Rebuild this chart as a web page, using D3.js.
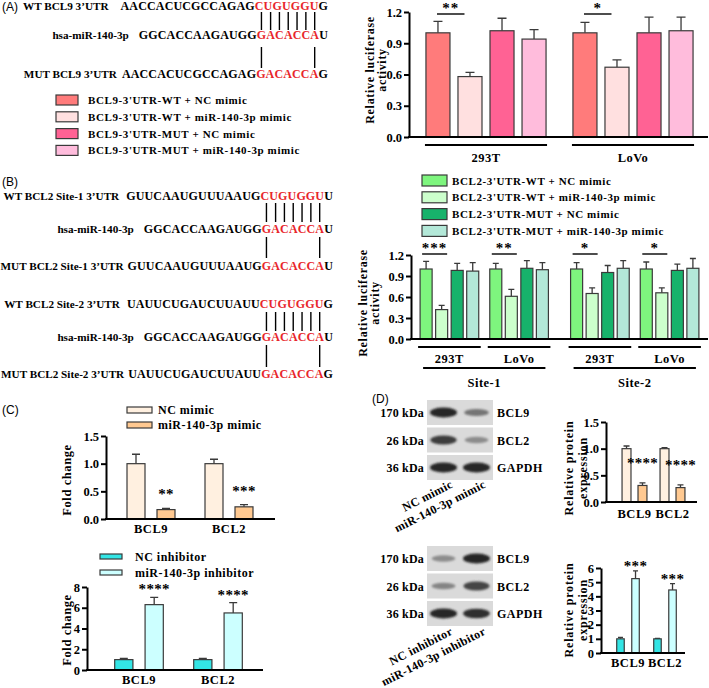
<!DOCTYPE html>
<html>
<head>
<meta charset="utf-8">
<script src="https://cdn.jsdelivr.net/npm/d3@7"></script>
<style>
  body { margin: 0; background: #fff; }
  svg { display: block; font-family: "Liberation Serif", "Times New Roman", serif; font-weight: bold; }
</style>
</head>
<body>
<svg id="fig" width="709" height="688"></svg>
<script>
// ---------------- data ----------------
// (A) BCL9 luciferase
const cellsA = ["293T", "LoVo"];
const seriesA = ["BCL9-3'UTR-WT + NC mimic", "BCL9-3'UTR-WT + miR-140-3p mimic",
  "BCL9-3'UTR-MUT + NC mimic", "BCL9-3'UTR-MUT + miR-140-3p mimic"];
const valuesA = [[1.00, 0.58, 1.02, 0.94], [1.00, 0.67, 1.00, 1.02]];
const errorsA = [[0.11, 0.04, 0.12, 0.09], [0.10, 0.07, 0.15, 0.13]];
const sigA = ["**", "*"];
const colorsA = ["#ff7b7b", "#ffe0e0", "#ff6294", "#ffbcdc"];

// (B) BCL2 luciferase
const sitesB = ["Site-1", "Site-2"];
const cellsB = ["293T", "LoVo"];
const seriesB = ["BCL2-3'UTR-WT + NC mimic", "BCL2-3'UTR-WT + miR-140-3p mimic",
  "BCL2-3'UTR-MUT + NC mimic", "BCL2-3'UTR-MUT + miR-140-3p mimic"];
const valuesB = [[[1.00, 0.42, 0.98, 0.97], [1.00, 0.61, 1.01, 0.99]],
                 [[1.00, 0.65, 0.95, 1.01], [1.00, 0.66, 0.98, 1.01]]];
const errorsB = [[[0.11, 0.06, 0.10, 0.12], [0.08, 0.10, 0.11, 0.10]],
                 [[0.09, 0.08, 0.10, 0.11], [0.10, 0.07, 0.09, 0.14]]];
const sigB = [["***", "**"], ["*", "*"]];
const colorsB = ["#7ef57e", "#ccffcc", "#17b26b", "#b3e8d8"];

// (C) qPCR
const genes = ["BCL9", "BCL2"];
const seriesMimic = ["NC mimic", "miR-140-3p mimic"];
const seriesInhib = ["NC inhibitor", "miR-140-3p inhibitor"];
const valuesC1 = [[1.00, 0.17], [1.00, 0.22]];
const errorsC1 = [[0.17, 0.02], [0.08, 0.04]];
const sigC1 = ["**", "***"];
const valuesC2 = [[1.0, 6.3], [1.0, 5.5]];
const errorsC2 = [[0.12, 0.7], [0.12, 1.0]];
const sigC2 = ["****", "****"];
const colorsMimic = ["#fff0e0", "#ffc991"];
const colorsInhib = ["#33e5e5", "#ccffff"];

// (D) western blot
const valuesD1 = [[1.00, 0.31], [1.00, 0.27]];
const errorsD1 = [[0.05, 0.05], [0.02, 0.05]];
const sigD1 = ["****", "****"];
const valuesD2 = [[1.0, 5.25], [1.0, 4.45]];
const errorsD2 = [[0.10, 0.55], [0.03, 0.45]];
const sigD2 = ["***", "***"];
const blotProteins = ["BCL9", "BCL2", "GAPDH"];
const blotKda = ["170 kDa", "26 kDa", "36 kDa"];
const bandsD1 = [[1.0, 0.5], [0.85, 0.35], [1.0, 1.0]];
const bandsD2 = [[0.35, 1.0], [0.4, 0.8], [1.0, 0.95]];

// sequences
const seqA = [
  { label: "WT BCL9 3’UTR", pre: "AACCACUCGCCAGAG", site: "CUGUGGU", post: "G" },
  { label: "hsa-miR-140-3p", pre: "GGCACCAAGAUGG", site: "GACACCA", post: "U" },
  { label: "MUT BCL9 3’UTR", pre: "AACCACUCGCCAGAG", site: "GACACCA", post: "G" }];
const seqB1 = [
  { label: "WT BCL2 Site-1 3’UTR", pre: "GUUCAAUGUUUAAUG", site: "CUGUGGU", post: "U" },
  { label: "hsa-miR-140-3p", pre: "GGCACCAAGAUGG", site: "GACACCA", post: "U" },
  { label: "MUT BCL2 Site-1 3’UTR", pre: "GUUCAAUGUUUAAUG", site: "GACACCA", post: "U" }];
const seqB2 = [
  { label: "WT BCL2 Site-2 3’UTR", pre: "UAUUCUGAUCUUAUU", site: "CUGUGGU", post: "G" },
  { label: "hsa-miR-140-3p", pre: "GGCACCAAGAUGG", site: "GACACCA", post: "U" },
  { label: "MUT BCL2 Site-2 3’UTR", pre: "UAUUCUGAUCUUAUU", site: "GACACCA", post: "G" }];

// ---------------- helpers ----------------
const svg = d3.select("#fig");
const RED = "#e8262b";
const EDGE = "#3a3a3a";

function panelLetter(t, x, y) {
  svg.append("text").attr("x", x).attr("y", y)
    .attr("font-family", "'Liberation Sans', Arial, sans-serif")
    .attr("font-weight", "normal").attr("font-size", 12).text(t);
}

function seqBlock(rows, xEnd, ys, gaps, topLink, botLink) {
  const nodes = rows.map((r, i) => {
    const t = svg.append("text").attr("x", xEnd).attr("y", ys[i])
      .attr("text-anchor", "end").attr("font-size", 12).attr("letter-spacing", 0.15);
    t.append("tspan").text(r.pre);
    t.append("tspan").attr("fill", RED).text(r.site);
    t.append("tspan").text(r.post);
    const left = t.node().getBBox().x;
    const lab = svg.append("text").attr("y", ys[i]).attr("font-size", 11.2).text(r.label);
    const w = lab.node().getComputedTextLength();
    lab.attr("x", Math.max(0.5, left - gaps[i] - w));
    return t.node();
  });
  // pairing lines at the seed characters of the miRNA row
  const mid = rows[1];
  const xs = d3.range(mid.site.length).map((k) => {
    const e = nodes[1].getExtentOfChar(mid.pre.length + k);
    return e.x + (e.width - 0.15) / 2;
  });
  xs.forEach((x) => link(x, topLink));
  [xs[0], xs[xs.length - 1]].forEach((x) => link(x, botLink));
}

function link(x, ys) {
  svg.append("line").attr("x1", x).attr("x2", x).attr("y1", ys[0]).attr("y2", ys[1])
    .attr("stroke", "#000").attr("stroke-width", 1.4);
}

function legend(items, colors, x, y0, step, bw, bh, tx, size, ls) {
  items.forEach((s, i) => {
    const y = y0 + i * step;
    svg.append("rect").attr("x", x).attr("y", y).attr("width", bw).attr("height", bh)
      .attr("fill", colors[i]).attr("stroke", EDGE).attr("stroke-width", 1.2);
    svg.append("text").attr("x", tx).attr("y", y + bh / 2 + 4)
      .attr("font-size", size).attr("letter-spacing", ls).text(s);
  });
}

function yLabel(lines, xs, cy, size, ls) {
  lines.forEach((s, i) => {
    svg.append("text").attr("transform", `translate(${xs[i]},${cy}) rotate(-90)`)
      .attr("text-anchor", "middle").attr("font-size", size)
      .attr("letter-spacing", ls).text(s);
  });
}

function drawChart(o) {
  const g = svg.append("g");
  const y = d3.scaleLinear().domain([0, o.max]).range([o.yBase, o.yTop]);
  o.groups.forEach((gr) => {
    const xs = d3.scaleBand().domain(d3.range(gr.values.length))
      .range([gr.x, gr.x + gr.w]).paddingInner(o.pIn).paddingOuter(o.pOut);
    gr.xs = xs;
    gr.values.forEach((v, i) => {
      const cx = xs(i) + xs.bandwidth() / 2;
      const top = y(v + gr.errors[i]);
      g.append("path")
        .attr("d", `M${cx},${y(v)}V${top}M${cx - o.cap / 2},${top}H${cx + o.cap / 2}`)
        .attr("stroke", EDGE).attr("stroke-width", 1.3).attr("fill", "none");
      g.append("rect").attr("x", xs(i)).attr("y", y(v))
        .attr("width", xs.bandwidth()).attr("height", y(0) - y(v))
        .attr("fill", o.colors[i]).attr("stroke", EDGE).attr("stroke-width", 1.2);
    });
  });
  const axis = g.append("g").attr("transform", `translate(${o.ax},0)`)
    .call(d3.axisLeft(y).tickValues(o.ticks).tickFormat(d3.format(o.fmt))
      .tickSize(5).tickSizeOuter(0).tickPadding(2))
    .attr("font-family", null).attr("font-size", 12.5);
  axis.select(".domain").attr("stroke-width", 2);
  axis.selectAll(".tick line").attr("stroke-width", 2);
  axis.selectAll(".tick text").attr("fill", "#000");
  g.append("line").attr("x1", o.ax - 1).attr("x2", o.axEnd)
    .attr("y1", y(0)).attr("y2", y(0)).attr("stroke", "#000").attr("stroke-width", 2);
  return y;
}

function center(gr, i) { return gr.xs(i) + gr.xs.bandwidth() / 2; }

// bracket between the first two bars of a group
function bracket(gr, text, yLine, a, b) {
  const x1 = center(gr, 0) + a, x2 = center(gr, 1) + b;
  svg.append("line").attr("x1", x1).attr("x2", x2).attr("y1", yLine).attr("y2", yLine)
    .attr("stroke", "#000").attr("stroke-width", 1.4);
  svg.append("text").attr("x", (x1 + x2) / 2).attr("y", yLine - 1.5)
    .attr("text-anchor", "middle").attr("font-size", 15).attr("letter-spacing", 1).text(text);
}

// stars above the second bar
function stars(gr, text, yTop, off) {
  svg.append("text").attr("x", center(gr, 1)).attr("y", yTop - off)
    .attr("text-anchor", "middle").attr("font-size", 15).attr("letter-spacing", 0.3).text(text);
}

function underline(x1, x2, y, label, ly) {
  svg.append("line").attr("x1", x1).attr("x2", x2).attr("y1", y).attr("y2", y)
    .attr("stroke", "#000").attr("stroke-width", 2);
  svg.append("text").attr("x", (x1 + x2) / 2).attr("y", ly)
    .attr("text-anchor", "middle").attr("font-size", 12.5).attr("letter-spacing", 0.5).text(label);
}

function xLabels(groups, y) {
  groups.forEach((gr) => {
    svg.append("text").attr("x", gr.x + gr.w / 2).attr("y", y)
      .attr("text-anchor", "middle").attr("font-size", 12.5).attr("letter-spacing", 0.5).text(gr.name);
  });
}

const defs = svg.append("defs");
defs.append("filter").attr("id", "blur").attr("x", "-30%").attr("y", "-60%")
  .attr("width", "160%").attr("height", "220%")
  .append("feGaussianBlur").attr("stdDeviation", 1.3);

function blot(top, rowH, gap, lanes, bands, labDy) {
  const xl = d3.scaleBand().domain(lanes).range([427, 493]);
  const shade = d3.interpolateRgb("#c4c4c4", "#252525");
  blotProteins.forEach((p, r) => {
    const ry = top + r * (rowH + gap);
    svg.append("rect").attr("x", 427).attr("y", ry).attr("width", 66).attr("height", rowH)
      .attr("fill", "#dadada");
    lanes.forEach((l, k) => {
      const v = bands[r][k];
      svg.append("ellipse").attr("cx", xl(l) + xl.bandwidth() / 2).attr("cy", ry + rowH / 2)
        .attr("rx", 11 + 2.5 * v).attr("ry", 2.2 + 2.8 * v)
        .attr("fill", shade(v)).attr("filter", "url(#blur)");
    });
    svg.append("text").attr("x", 424).attr("y", ry + rowH / 2 + 4.5)
      .attr("text-anchor", "end").attr("font-size", 12).attr("letter-spacing", 0.2).text(blotKda[r]);
    svg.append("text").attr("x", 497).attr("y", ry + rowH / 2 + 4.5)
      .attr("font-size", 12).attr("letter-spacing", 0.5).text(p);
  });
  const bottom = top + 3 * rowH + 2 * gap;
  lanes.forEach((l) => {
    svg.append("text")
      .attr("transform", `translate(${xl(l) + xl.bandwidth() / 2 + 10},${bottom + labDy}) rotate(-27)`)
      .attr("text-anchor", "end").attr("font-size", 12).attr("letter-spacing", 0.3).text(l);
  });
}

// ---------------- (A) ----------------
panelLetter("(A)", 2, 10.5);
seqBlock(seqA, 328, [9.5, 39, 78], [12, 10, 5], [12, 30], [47, 68]);
legend(seriesA, colorsA, 56, 95, 16.8, 22, 10, 88, 11, 0.6);

const xA = d3.scaleBand().domain(cellsA).range([412.5, 706.5]);
const groupsA = cellsA.map((c, i) => ({ name: c, x: xA(c), w: xA.bandwidth(), values: valuesA[i], errors: errorsA[i] }));
drawChart({ groups: groupsA, max: 1.2, yBase: 137, yTop: 12, ax: 409, axEnd: 708,
  ticks: [0, 0.3, 0.6, 0.9, 1.2], fmt: ".1f", pIn: 0.25, pOut: 0.42, cap: 9, colors: colorsA });
groupsA.forEach((gr, i) => {
  bracket(gr, sigA[i], 14, -1, -5.5);
  underline(gr.xs(0) - 1, gr.xs(3) + gr.xs.bandwidth() + 1, 145, gr.name, 161.5);
});
yLabel(["Relative luciferase", "activity"], [374, 385.5], 70, 12, 0.7);

// ---------------- (B) ----------------
panelLetter("(B)", 2, 186);
seqBlock(seqB1, 333, [200, 233, 270], [7, 10, 4], [203, 222], [237, 258]);
seqBlock(seqB2, 333, [308, 341, 378], [7, 10, 4], [312, 331], [345, 367]);
legend(seriesB, colorsB, 422, 175, 16.8, 25, 11, 452, 11, 0.6);

const xSite = d3.scaleBand().domain(sitesB).range([409, 710]);
const xCell = d3.scaleBand().domain(cellsB).range([0, xSite.bandwidth()]).paddingOuter(0.08);
const groupsB = [];
sitesB.forEach((s, si) => cellsB.forEach((c, ci) => groupsB.push({
  name: c, site: si, x: xSite(s) + xCell(c), w: xCell.bandwidth(),
  values: valuesB[si][ci], errors: errorsB[si][ci], sig: sigB[si][ci] })));
drawChart({ groups: groupsB, max: 1.2, yBase: 339, yTop: 255, ax: 411, axEnd: 708,
  ticks: [0, 0.3, 0.6, 0.9, 1.2], fmt: ".1f", pIn: 0.226, pOut: 0.355, cap: 6, colors: colorsB });
groupsB.forEach((gr) => {
  bracket(gr, gr.sig, 254, -4, 5.5);
  underline(gr.xs(0) - 2, gr.xs(3) + gr.xs.bandwidth() + 2, 347, gr.name, 363);
});
sitesB.forEach((s, si) => {
  const gs = groupsB.filter((g) => g.site === si);
  underline(gs[0].xs(0) + 3, gs[1].xs(3) + gs[1].xs.bandwidth() - 3, 368, s, 387);
});
yLabel(["Relative luciferase", "activity"], [367, 379], 303, 12, 0.7);

// ---------------- (C) ----------------
panelLetter("(C)", 2, 414);
legend(seriesMimic, colorsMimic, 127, 407, 15, 25, 6, 158, 12, 0.5);
const xC1 = d3.scaleBand().domain(genes).range([112, 268]);
const groupsC1 = genes.map((n, i) => ({ name: n, x: xC1(n), w: xC1.bandwidth(), values: valuesC1[i], errors: errorsC1[i] }));
const yC1 = drawChart({ groups: groupsC1, max: 1.5, yBase: 519, yTop: 436, ax: 106, axEnd: 275,
  ticks: [0, 0.5, 1, 1.5], fmt: ".1f", pIn: 0.4, pOut: 0.5, cap: 8, colors: colorsMimic });
groupsC1.forEach((gr, i) => stars(gr, sigC1[i], yC1(gr.values[1] + gr.errors[1]), 9));
xLabels(groupsC1, 533);
yLabel(["Fold change"], [71], 480, 12.5, 0.6);

legend(seriesInhib, colorsInhib, 100, 554, 16, 22, 5, 135, 12, 0.5);
const xC2 = d3.scaleBand().domain(genes).range([99.5, 257.5]);
const groupsC2 = genes.map((n, i) => ({ name: n, x: xC2(n), w: xC2.bandwidth(), values: valuesC2[i], errors: errorsC2[i] }));
const yC2 = drawChart({ groups: groupsC2, max: 8, yBase: 670, yTop: 587, ax: 87, axEnd: 263,
  ticks: [0, 2, 4, 6, 8], fmt: "d", pIn: 0.4, pOut: 0.5, cap: 8, colors: colorsInhib });
groupsC2.forEach((gr, i) => stars(gr, sigC2[i], yC2(gr.values[1] + gr.errors[1]), 3));
xLabels(groupsC2, 684);
yLabel(["Fold change"], [71], 630, 12.5, 0.6);

// ---------------- (D) ----------------
panelLetter("(D)", 372, 403);
blot(400, 25, 2.5, seriesMimic, bandsD1, 7);
blot(546, 25, 2.5, seriesInhib, bandsD2, 8);

const xD1 = d3.scaleBand().domain(genes).range([615.5, 691.5]);
const groupsD1 = genes.map((n, i) => ({ name: n, x: xD1(n), w: xD1.bandwidth(), values: valuesD1[i], errors: errorsD1[i] }));
const yD1 = drawChart({ groups: groupsD1, max: 1.5, yBase: 502, yTop: 422, ax: 606, axEnd: 697,
  ticks: [0, 0.5, 1, 1.5], fmt: ".1f", pIn: 0.44, pOut: 0.41, cap: 6, colors: colorsMimic });
groupsD1.forEach((gr, i) => stars(gr, sigD1[i], yD1(gr.values[1] + gr.errors[1]), 15));
xLabels(groupsD1, 518);
yLabel(["Relative protein", "expression"], [573, 587], 468, 12, 0.8);

const xD2 = d3.scaleBand().domain(genes).range([609.5, 683.5]);
const groupsD2 = genes.map((n, i) => ({ name: n, x: xD2(n), w: xD2.bandwidth(), values: valuesD2[i], errors: errorsD2[i] }));
const yD2 = drawChart({ groups: groupsD2, max: 6, yBase: 653, yTop: 568, ax: 601, axEnd: 685,
  ticks: [0, 1, 2, 3, 4, 5, 6], fmt: "d", pIn: 0.5, pOut: 0.48, cap: 5, colors: colorsInhib });
groupsD2.forEach((gr, i) => stars(gr, sigD2[i], yD2(gr.values[1] + gr.errors[1]), 0));
xLabels(groupsD2, 667);
yLabel(["Relative protein", "expression"], [573, 587], 610, 12, 0.8);
</script>
</body>
</html>
